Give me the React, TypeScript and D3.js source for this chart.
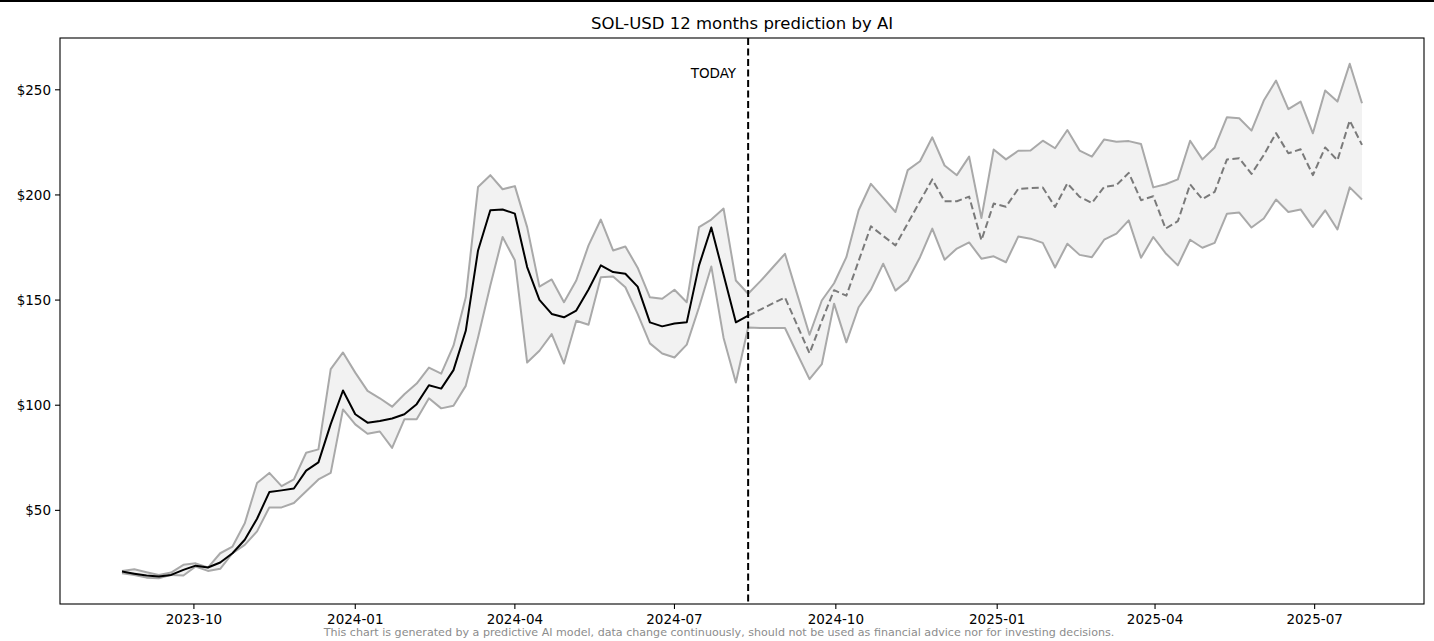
import React from "react";
import * as d3 from "d3";

// ---------- DATA ----------
const START_DATE = "2023-08-21"; // first weekly observation
const TODAY_DATE = "2024-08-12";

// history (weekly, 2023-08-21 .. 2024-08-12)
const histMean = [
  20.9, 19.9, 19.0, 18.5, 19.3, 21.7, 23.7, 22.8, 25.2, 29.6, 36.0, 46.0, 58.7, 59.5, 60.4, 68.9, 72.8,
  91.0, 107.0, 95.7, 91.7, 92.5, 93.7, 95.7, 100.5, 109.5, 107.9, 116.7, 135.4, 173.6, 192.7, 193.1,
  191.1, 165.7, 150.1, 143.4, 141.8, 145.0, 155.0, 166.5, 163.3, 162.5, 156.4, 139.4, 137.5, 138.9,
  139.4, 166.5, 184.5, 162.0, 139.4, 142.6,
];
const histUpper = [
  21.2, 22.0, 20.6, 19.3, 20.4, 24.1, 24.8, 22.8, 29.6, 32.8, 43.9, 63.0, 67.8, 61.5, 64.7, 77.4, 79.0,
  117.2, 125.1, 115.5, 106.8, 103.3, 99.3, 105.2, 110.3, 117.9, 115.0, 128.3, 151.3, 203.8, 209.4,
  202.7, 204.2, 184.7, 156.4, 159.8, 149.0, 159.3, 176.0, 188.3, 173.6, 175.5, 165.4, 151.3, 150.6,
  154.9, 149.0, 184.7, 188.3, 193.5, 159.3, 153.0,
];
const histLower = [
  20.1, 19.3, 18.0, 17.7, 19.3, 19.0, 23.3, 21.2, 22.2, 29.6, 33.6, 40.0, 51.4, 51.4, 53.5, 59.1, 64.7,
  67.8, 98.0, 90.9, 86.4, 87.5, 79.7, 93.3, 93.3, 103.3, 98.5, 99.7, 109.2, 132.2, 156.9, 180.0, 168.9,
  120.3, 125.9, 133.8, 119.8, 140.2, 138.3, 160.9, 161.2, 156.1, 143.4, 129.4, 124.6, 122.7, 128.8,
  146.6, 166.0, 132.0, 110.8, 137.0,
];

// forecast (weekly, 2024-08-12 .. 2025-07-28)
const fcMean = [
  142.6, 145.5, 148.4, 151.2, 138.0, 124.7, 140.0, 154.7, 152.1, 168.6, 185.1, 180.5, 176.0, 186.5,
  197.0, 207.4, 197.0, 197.0, 199.2, 178.4, 195.9, 194.4, 202.9, 203.3, 203.5, 194.3, 205.5, 199.1,
  196.2, 203.8, 204.7, 210.5, 197.5, 199.4, 184.0, 187.5, 205.0, 198.0, 201.5, 216.9, 217.4, 210.0,
  219.0, 229.4, 219.8, 221.7, 209.4, 222.6, 216.5, 235.4, 223.8,
];
const fcUpper = [
  152.4, 159.0, 165.5, 172.0, 152.7, 133.5, 149.8, 158.0, 170.4, 192.7, 205.3, 198.6, 191.9, 211.8,
  216.0, 227.4, 214.0, 209.4, 218.2, 189.0, 221.6, 216.9, 221.0, 221.1, 225.8, 222.2, 230.9, 221.1,
  218.2, 226.4, 225.3, 225.6, 224.2, 203.6, 205.1, 207.4, 225.8, 216.9, 222.6, 237.0, 236.5, 230.6,
  244.9, 254.4, 240.8, 244.4, 229.3, 249.7, 244.4, 262.4, 243.6,
];
const fcLower = [
  136.7, 136.7, 136.7, 136.7, 124.5, 112.4, 119.5, 148.3, 129.9, 146.6, 155.0, 167.3, 154.5, 159.3,
  170.4, 184.0, 169.2, 174.5, 177.4, 169.7, 170.8, 168.0, 180.2, 179.2, 177.2, 165.5, 176.8, 171.5,
  170.4, 178.7, 181.6, 187.9, 170.1, 180.0, 172.3, 166.5, 178.7, 174.9, 177.2, 191.1, 191.6, 184.5,
  188.8, 197.8, 191.9, 193.1, 184.8, 192.7, 183.6, 203.6, 197.8,
];

const yTicks = [50, 100, 150, 200, 250];
const xTickLabels = ["2023-10", "2024-01", "2024-04", "2024-07", "2024-10", "2025-01", "2025-04", "2025-07"];

const TITLE = "SOL-USD 12 months prediction by AI";
const FOOTER =
  "This chart is generated by a predictive AI model, data change continuously, should not be used as financial advice nor for investing decisions.";

// ---------- CHART ----------
const W = 1434;
const H = 641;
const M = { left: 60, right: 1424, top: 38, bottom: 604 };
const FONT = "DejaVu Sans, sans-serif";

type P = { d: Date; v: number };

export default function App() {
  const start = d3.utcParse("%Y-%m-%d")(START_DATE)!;
  const today = d3.utcParse("%Y-%m-%d")(TODAY_DATE)!;
  const weekDate = (i: number) => d3.utcDay.offset(start, i * 7);
  const fcDate = (i: number) => d3.utcDay.offset(today, i * 7);

  const hM: P[] = histMean.map((v, i) => ({ d: weekDate(i), v }));
  const fM: P[] = fcMean.map((v, i) => ({ d: fcDate(i), v }));
  const up: P[] = [
    ...histUpper.map((v, i) => ({ d: weekDate(i), v })),
    ...fcUpper.slice(1).map((v, i) => ({ d: fcDate(i + 1), v })),
  ];
  const lo: P[] = [
    ...histLower.map((v, i) => ({ d: weekDate(i), v })),
    ...fcLower.slice(1).map((v, i) => ({ d: fcDate(i + 1), v })),
  ];

  const allDates = up.map((p) => p.d);
  const t0 = +allDates[0];
  const t1 = +allDates[allDates.length - 1];
  const tp = (t1 - t0) * 0.05;
  const x = d3.scaleUtc().domain([new Date(t0 - tp), new Date(t1 + tp)]).range([M.left, M.right]);

  const vmin = d3.min(lo, (p) => p.v)!;
  const vmax = d3.max(up, (p) => p.v)!;
  const vp = (vmax - vmin) * 0.05;
  const y = d3.scaleLinear().domain([vmin - vp, vmax + vp]).range([M.bottom, M.top]);

  const line = d3
    .line<P>()
    .x((p) => x(p.d))
    .y((p) => y(p.v));

  const area = d3
    .area<P>()
    .x((p) => x(p.d))
    .y0((_, i) => y(lo[i].v))
    .y1((p) => y(p.v));

  const xTicks = xTickLabels.map((s) => d3.utcParse("%Y-%m")(s)!);
  const todayX = x(today);

  return (
    <svg
      width={W}
      height={H}
      style={{ position: "absolute", left: 0, top: 0, background: "#fff" }}
      fontFamily={FONT}
    >
      <rect x={0} y={0} width={W} height={H} fill="#fff" />
      <rect x={0} y={0} width={W} height={2} fill="#000" />
      <text x={(M.left + M.right) / 2} y={29} textAnchor="middle" fontSize={16.5} fill="#000">
        {TITLE}
      </text>

      {/* band */}
      <path d={area(up) || ""} fill="#f2f2f2" stroke="none" />
      <path d={line(up) || ""} fill="none" stroke="#a9a9a9" strokeWidth={2} strokeLinejoin="round" />
      <path d={line(lo) || ""} fill="none" stroke="#a9a9a9" strokeWidth={2} strokeLinejoin="round" />

      {/* forecast mean */}
      <path
        d={line(fM) || ""}
        fill="none"
        stroke="#7a7a7a"
        strokeWidth={2}
        strokeDasharray="7,3.5"
        strokeLinejoin="round"
      />
      {/* history */}
      <path d={line(hM) || ""} fill="none" stroke="#000" strokeWidth={2} strokeLinejoin="round" />

      {/* today */}
      <line
        x1={todayX}
        x2={todayX}
        y1={M.top}
        y2={M.bottom}
        stroke="#000"
        strokeWidth={2}
        strokeDasharray="7,3.5"
      />
      <text x={todayX - 12} y={78} textAnchor="end" fontSize={13.5} fill="#000">
        TODAY
      </text>

      {/* frame */}
      <rect
        x={M.left}
        y={M.top}
        width={M.right - M.left}
        height={M.bottom - M.top}
        fill="none"
        stroke="#000"
        strokeWidth={1.1}
      />

      {/* y axis */}
      {yTicks.map((t) => (
        <g key={t} transform={`translate(0,${y(t)})`}>
          <line x1={M.left - 5} x2={M.left} stroke="#000" strokeWidth={1.1} />
          <text x={M.left - 9} dy="0.35em" textAnchor="end" fontSize={13.5} fill="#000">
            {"$" + t}
          </text>
        </g>
      ))}

      {/* x axis */}
      {xTicks.map((d, i) => (
        <g key={i} transform={`translate(${x(d)},0)`}>
          <line y1={M.bottom} y2={M.bottom + 5} stroke="#000" strokeWidth={1.1} />
          <text y={M.bottom + 20} textAnchor="middle" fontSize={13.5} fill="#000">
            {xTickLabels[i]}
          </text>
        </g>
      ))}

      <text x={719} y={636} textAnchor="middle" fontSize={11.1} fill="#8c8c8c">
        {FOOTER}
      </text>
    </svg>
  );
}
